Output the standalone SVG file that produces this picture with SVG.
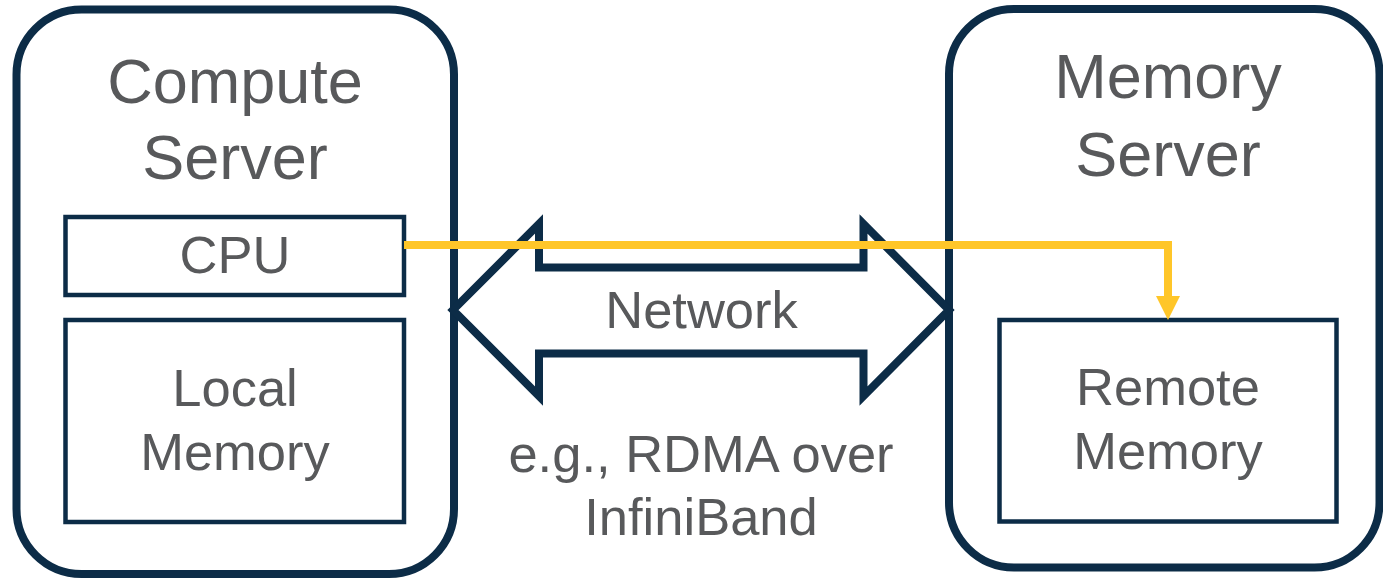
<svg xmlns="http://www.w3.org/2000/svg" width="1383" height="579" viewBox="0 0 1383 579">
  <style>
    .outer { fill: #ffffff; stroke: #0c2c47; stroke-width: 8; }
    .inner { fill: #ffffff; stroke: #0c2c47; stroke-width: 4.5; }
    .big { font-family: "Liberation Sans", Arial, sans-serif; font-size: 63px; fill: #58595b; text-anchor: middle; }
    .mid { font-family: "Liberation Sans", Arial, sans-serif; font-size: 52.5px; fill: #58595b; text-anchor: middle; }
    .link { fill: none; stroke: #ffc629; stroke-width: 8; }
  </style>
  <defs>
    <marker id="arrowY" viewBox="0 0 24 24" refX="2" refY="12" markerWidth="24" markerHeight="24" markerUnits="userSpaceOnUse" orient="auto">
      <path d="M0,0 L24,12 L0,24 Z" fill="#ffc629"/>
    </marker>
  </defs>
  <rect width="1383" height="579" fill="#ffffff"/>

  <g id="compute-server">
    <rect class="outer" x="16.5" y="9.5" width="437.5" height="564.5" rx="65" ry="65"/>
    <text class="big" x="235" y="103">Compute</text>
    <text class="big" x="235" y="179">Server</text>
  </g>
  <g id="cpu">
    <rect class="inner" x="65.5" y="217" width="338.5" height="78"/>
    <text class="mid" x="235" y="272.5">CPU</text>
  </g>
  <g id="local-memory">
    <rect class="inner" x="65.5" y="320" width="338.5" height="202"/>
    <text class="mid" x="235" y="406">Local</text>
    <text class="mid" x="235" y="470">Memory</text>
  </g>

  <g id="memory-server">
    <rect class="outer" x="949" y="9" width="430.5" height="558.5" rx="65" ry="65"/>
    <text class="big" x="1168" y="98">Memory</text>
    <text class="big" x="1168" y="175.5">Server</text>
  </g>
  <g id="remote-memory">
    <rect class="inner" x="999.5" y="320" width="337" height="201.5"/>
    <text class="mid" x="1168" y="405">Remote</text>
    <text class="mid" x="1168" y="469">Memory</text>
  </g>

  <g id="network">
    <polygon points="453,310 539,224 539,267.5 863.5,267.5 863.5,224 949,310 863.5,396 863.5,353.5 539,353.5 539,396" fill="#ffffff" stroke="#0c2c47" stroke-width="8" stroke-linejoin="miter"/>
    <text class="mid" x="701.5" y="328">Network</text>
  </g>
  <g id="network-note">
    <text class="mid" x="701" y="471.5">e.g., RDMA over</text>
    <text class="mid" x="701" y="534.5">InfiniBand</text>
  </g>

  <g id="connectors">
    <path class="link" d="M404,245 H1168 V298" marker-end="url(#arrowY)"/>
  </g>
</svg>
